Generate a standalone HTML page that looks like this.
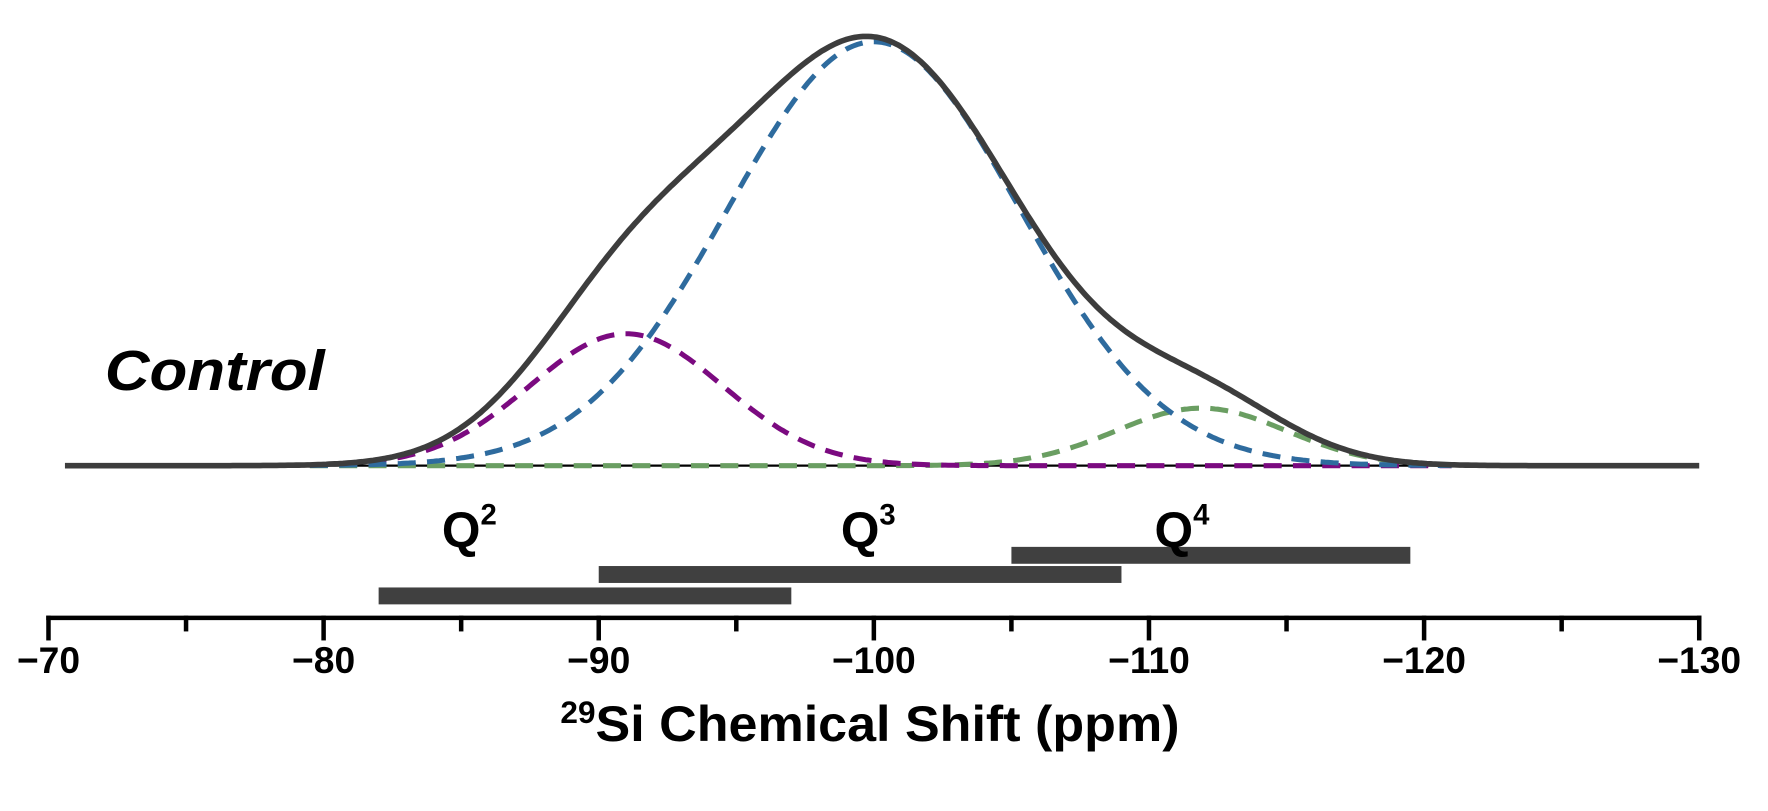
<!DOCTYPE html>
<html><head><meta charset="utf-8"><style>
html,body{margin:0;padding:0;background:#fff;}
svg{display:block;font-family:"Liberation Sans",sans-serif;}
</style></head><body>
<svg id="chart" width="1768" height="811" viewBox="0 0 1568 719.25">
<g id="plot"></g>
<g id="axis"></g>
<text x="93" y="346" font-size="50" font-weight="bold" font-style="italic" fill="#000" textLength="195" lengthAdjust="spacingAndGlyphs">Control</text>
<text x="497" y="657" font-size="44" font-weight="bold" fill="#000"><tspan font-size="28" dy="-16">29</tspan><tspan dy="16" textLength="518" lengthAdjust="spacingAndGlyphs">Si Chemical Shift (ppm)</tspan></text>
</svg>
<script>
// data
const peakLabels = ["Q2", "Q3", "Q4"];
const peakCenters = [-91, -100, -111.9];
const peakHeights = [117, 376, 51];
const peakSigmas = [3.5, 5.3, 3.1];
const peakColors = ["#7b0a80", "#2e6b9e", "#6a9e62"];
const rangeStarts = [-82, -90, -105];
const rangeEnds = [-97, -109, -119.5];
const labelPositions = [-84.3, -98.8, -110.2];
const tickValues = [-70, -80, -90, -100, -110, -120, -130];
const tickLabels = ["\u221270", "\u221280", "\u221290", "\u2212100", "\u2212110", "\u2212120", "\u2212130"];

const NS = "http://www.w3.org/2000/svg";
const X0 = -70, X1 = -130, PX0 = 43, PX1 = 1507;
function xs(v){ return PX0 + (v - X0) / (X1 - X0) * (PX1 - PX0); }
const BASE = 413;
function ys(h){ return BASE - h; }
function gauss(i, v){ const d = (v - peakCenters[i]) / peakSigmas[i]; return peakHeights[i] * Math.exp(-d*d/2); }

const plot = document.getElementById('plot');
const axis = document.getElementById('axis');
function mk(tag, attrs, parent){ const e = document.createElementNS(NS, tag); for (const k in attrs) e.setAttribute(k, attrs[k]); parent.appendChild(e); return e; }

// baseline
let bl = mk('line', {x1: xs(-79), x2: xs(-121), y1: BASE, y2: BASE, stroke: '#000', 'stroke-width': 2}, plot);



// components
const order = [2, 0, 1];
for (const i of order){
  let d = '';
  for (let v = -79.5; v >= -121; v -= 0.1){ d += (d ? 'L' : 'M') + xs(v).toFixed(1) + ',' + ys(gauss(i, v)).toFixed(1); }
  const p = mk('path', {d: d, fill: 'none', stroke: peakColors[i], 'stroke-width': 4.5, 'stroke-dasharray': '16 10'}, plot);
  
  
}
// total
let td = '';
for (let v = -70.6; v >= -130; v -= 0.1){
  let s = 0; for (let i = 0; i < peakCenters.length; i++) s += gauss(i, v);
  td += (td ? 'L' : 'M') + xs(v).toFixed(1) + ',' + ys(s).toFixed(1);
}
const tp = mk('path', {d: td, fill: 'none', stroke: '#3d3d3d', 'stroke-width': 5}, plot);



// range bars & labels
const barY = [521, 502, 485];
for (let i = 0; i < rangeStarts.length; i++){
  const r = mk('rect', {x: xs(rangeStarts[i]), y: barY[i], width: xs(rangeEnds[i]) - xs(rangeStarts[i]), height: 15, fill: '#404040'}, plot);
  
  
  const t = mk('text', {x: xs(labelPositions[i]), y: 485, 'font-size': 44, 'font-weight': 'bold', fill: '#000'}, plot);
  
  
  t.textContent = 'Q';
  const s = mk('tspan', {'font-size': 26, dy: -20}, t);
  s.textContent = peakLabels[i].slice(1);
}

// axis
const al = mk('line', {x1: PX0 - 2, x2: PX1 + 2, y1: 548, y2: 548, stroke: '#000', 'stroke-width': 4}, axis);


for (let i = 0; i < tickValues.length; i++){
  const x = xs(tickValues[i]);
  const t = mk('line', {x1: x, x2: x, y1: 546, y2: 568, stroke: '#000', 'stroke-width': 4}, axis);
  
  
  const lb = mk('text', {x: x, y: 597, 'font-size': 33, 'font-weight': 'bold', 'text-anchor': 'middle', fill: '#000'}, axis);
  
  
  lb.textContent = tickLabels[i];
  if (i < tickValues.length - 1){
    const xm = xs(tickValues[i] - 5);
    const m = mk('line', {x1: xm, x2: xm, y1: 546, y2: 560, stroke: '#000', 'stroke-width': 4}, axis);
    
    
  }
}
</script>
</body></html>
